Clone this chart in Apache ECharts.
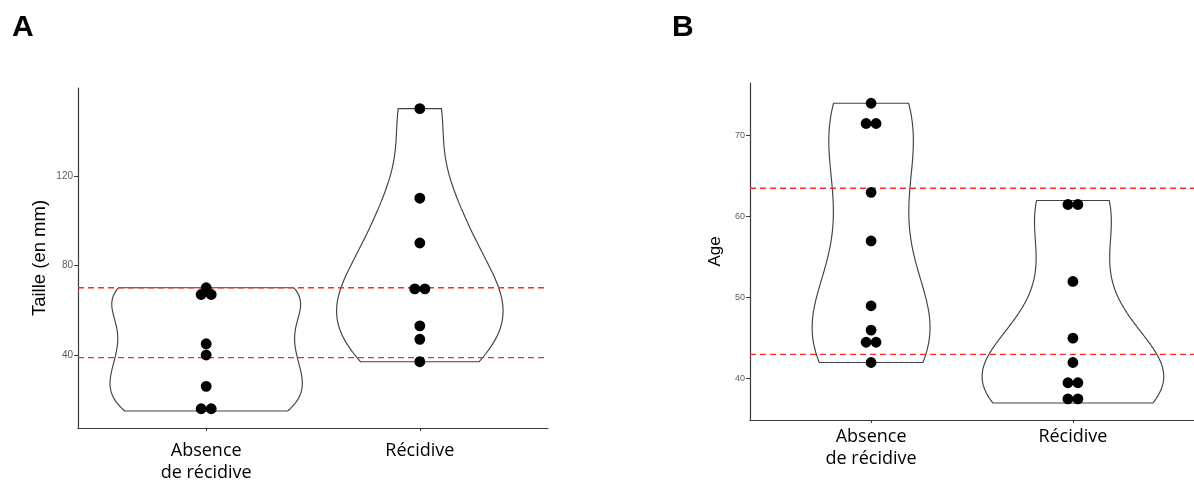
<!DOCTYPE html>
<html>
<head>
<meta charset="utf-8">
<script src="https://cdn.jsdelivr.net/npm/echarts@6/dist/echarts.min.js"></script>
<style>
  html, body { margin: 0; padding: 0; background: #fff; }
  #chart { width: 1194px; height: 484px; }
</style>
</head>
<body>
<div id="chart"></div>
<script>
const categories = ['Absence\nde récidive', 'Récidive'];

// A : Taille (en mm)
const tailleAbsence = [15, 17, 26, 40, 45, 65, 69, 70];
const tailleRecidive = [37, 47, 53, 69, 70, 90, 110, 150];
const tailleSeuils = [70, 38.8];
const tailleTicks = [40, 80, 120];

// B : Age
const ageAbsence = [42, 44, 45, 46, 49, 57, 63, 71, 72, 74];
const ageRecidive = [37, 38, 39, 40, 42, 45, 52, 61, 62];
const ageSeuils = [63.5, 43];
const ageTicks = [40, 50, 60, 70];

// --- petites stats (comme ggplot: bw.nrd0, densite gaussienne, trim) ---
function quantile(sorted, p) {
  const h = (sorted.length - 1) * p, lo = Math.floor(h);
  return sorted[lo] + (h - lo) * ((sorted[lo + 1] ?? sorted[lo]) - sorted[lo]);
}
function bwNrd0(x) {
  const s = [...x].sort((a, b) => a - b), n = x.length;
  const m = x.reduce((a, b) => a + b, 0) / n;
  const sd = Math.sqrt(x.reduce((a, b) => a + (b - m) ** 2, 0) / (n - 1));
  const iqr = quantile(s, 0.75) - quantile(s, 0.25);
  const lo = Math.min(sd, iqr / 1.34) || sd || 1;
  return 0.9 * lo * Math.pow(n, -0.2);
}
function density(x) {
  const bw = bwNrd0(x), n = x.length;
  const min = Math.min(...x), max = Math.max(...x);
  const out = [];
  for (let i = 0; i < 256; i++) {
    const y = min + (max - min) * i / 255;
    let d = 0;
    x.forEach(v => { const z = (y - v) / bw; d += Math.exp(-0.5 * z * z); });
    out.push([y, d / (n * bw * Math.sqrt(2 * Math.PI))]);
  }
  return out;
}
// binning "dotdensity" de geom_dotplot
function binDots(x, binwidth) {
  const s = [...x].sort((a, b) => a - b), bins = [];
  let end = -Infinity;
  s.forEach(v => {
    if (v >= end) { bins.push([]); end = v + binwidth; }
    bins[bins.length - 1].push(v);
  });
  return bins.map(b => ({ center: (b[0] + b[b.length - 1]) / 2, count: b.length }));
}

const X_MIN = 0.4, X_MAX = 2.6;

function panel(i, groups, seuils, ticks, yName, yMin, yMax, nameGap, nameSize, tickSize, labelMargin) {
  const all = groups.flat();
  const binwidth = (Math.max(...all) - Math.min(...all)) / 30;
  const dens = groups.map(density);
  const maxD = Math.max(...dens.flat().map(p => p[1]));
  const profiles = dens.map(d => d.map(p => [p[0], 0.45 * p[1] / maxD]));

  const dots = [];
  groups.forEach((g, gi) => {
    binDots(g, binwidth).forEach(b => {
      for (let k = 0; k < b.count; k++) dots.push([gi + 1, b.center, k, b.count]);
    });
  });

  const xAxis = {
    gridIndex: i, type: 'value', min: X_MIN, max: X_MAX,
    axisLine: { show: true, onZero: false, lineStyle: { color: '#3a3a3a', width: 1.2 } },
    axisTick: { show: true, length: 3, customValues: [1, 2], lineStyle: { color: '#3a3a3a' } },
    axisLabel: {
      customValues: [1, 2], formatter: v => categories[Math.round(v) - 1],
      fontFamily: 'Open Sans', fontSize: 18, lineHeight: 22, color: '#000', margin: labelMargin
    },
    splitLine: { show: false }
  };
  const yAxis = {
    gridIndex: i, type: 'value', min: yMin, max: yMax,
    name: yName, nameLocation: 'middle', nameGap: nameGap,
    nameTextStyle: { fontFamily: 'Liberation Sans', fontSize: nameSize, color: '#000' },
    axisLine: { show: true, onZero: false, lineStyle: { color: '#3a3a3a', width: 1.2 } },
    axisTick: { show: true, length: 4, customValues: ticks, lineStyle: { color: '#3a3a3a' } },
    axisLabel: { customValues: ticks, fontFamily: 'Liberation Sans', fontSize: tickSize, color: '#5a5a5a', margin: 5 },
    splitLine: { show: false }
  };
  const series = [
    {
      type: 'custom', xAxisIndex: i, yAxisIndex: i, silent: true,
      data: groups.map((g, gi) => [gi + 1, Math.min(...g), Math.max(...g)]),
      encode: { x: 0, y: [1, 2] },
      renderItem(params, api) {
        const prof = profiles[params.dataIndex], cx = params.dataIndex + 1;
        const pts = prof.map(p => api.coord([cx - p[1], p[0]]));
        for (let k = prof.length - 1; k >= 0; k--) pts.push(api.coord([cx + prof[k][1], prof[k][0]]));
        return { type: 'polygon', shape: { points: pts }, style: { fill: 'none', stroke: '#424242', lineWidth: 1.15 } };
      },
      z: 2
    },
    // lignes de seuil rouges en pointillés
    ...seuils.map(v => ({
      type: 'line', xAxisIndex: i, yAxisIndex: i, silent: true,
      data: [[X_MIN, v], [X_MAX, v]], symbol: 'none',
      lineStyle: { color: '#ff2a2a', type: [6, 4], width: 1.4 },
      z: 2
    })),
    {
      type: 'custom', xAxisIndex: i, yAxisIndex: i, silent: true,
      data: dots, encode: { x: 0, y: 1 },
      renderItem(params, api) {
        const c = api.coord([api.value(0), api.value(1)]);
        const d = api.size([0, binwidth])[1];
        const off = (api.value(2) - (api.value(3) - 1) / 2) * d;
        return { type: 'circle', shape: { cx: c[0] + off, cy: c[1], r: d / 2 + 0.4 }, style: { fill: '#000' } };
      },
      z: 3
    }
  ];
  return { xAxis, yAxis, series };
}

const pA = panel(0, [tailleAbsence, tailleRecidive], tailleSeuils, tailleTicks, 'Taille (en mm)', 7.4, 159.2, 29, 18.5, 10, 12);
const pB = panel(1, [ageAbsence, ageRecidive], ageSeuils, ageTicks, 'Age', 34.9, 76.5, 26, 17, 9, 6);

const chart = echarts.init(document.getElementById('chart'), null, { renderer: 'canvas' });
chart.setOption({
  animation: false,
  backgroundColor: '#fff',
  title: [
    { text: 'A', left: 7, top: 8, textStyle: { fontFamily: 'Liberation Sans', fontWeight: 'bold', fontSize: 30, color: '#000' } },
    { text: 'B', left: 667, top: 8, textStyle: { fontFamily: 'Liberation Sans', fontWeight: 'bold', fontSize: 30, color: '#000' } }
  ],
  grid: [
    { left: 78, right: 646, top: 88, bottom: 56 },
    { left: 750, right: -4, top: 83, bottom: 64 }
  ],
  xAxis: [pA.xAxis, pB.xAxis],
  yAxis: [pA.yAxis, pB.yAxis],
  series: [...pA.series, ...pB.series]
});
</script>
</body>
</html>
